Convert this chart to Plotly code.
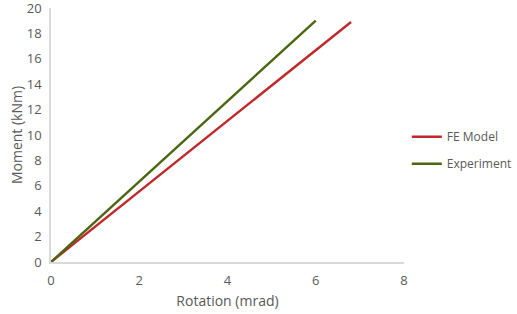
import plotly.graph_objects as go

fe_rotation = [0, 6.8]
fe_moment = [0, 18.9]
exp_rotation = [0, 6.0]
exp_moment = [0, 19.0]

x_ticks = [0, 2, 4, 6, 8]
y_ticks = [0, 2, 4, 6, 8, 10, 12, 14, 16, 18, 20]

fig = go.Figure()
fig.add_trace(go.Scatter(x=fe_rotation, y=fe_moment, mode="lines", name="FE Model",
                         legendgroup="fe",
                         line=dict(color="#C0282C", width=2.4)))
fig.add_trace(go.Scatter(x=exp_rotation, y=exp_moment, mode="lines", name="Experiment",
                         legendgroup="exp",
                         line=dict(color="#4A6612", width=2.4)))

font_color = "#595959"
fig.update_layout(
    width=517, height=314,
    margin=dict(l=51, r=113, t=8, b=52, autoexpand=False),
    paper_bgcolor="white", plot_bgcolor="white",
    font=dict(family="Open Sans", size=13, color=font_color),
    legend=dict(x=1.008, y=0.44, xanchor="left", yanchor="middle",
                font=dict(size=12, color=font_color), tracegroupgap=8,
                itemwidth=30),
    xaxis=dict(range=[0, 8], tickvals=x_ticks, showgrid=False, zeroline=False,
               showline=True, linecolor="#D9D9D9", linewidth=1.5,
               ticks="outside", ticklen=6, tickcolor="rgba(0,0,0,0)",
               automargin=False, ticklabeloverflow="allow",
               title=dict(text="Rotation (mrad)", font=dict(size=14, color=font_color), standoff=8),
               tickfont=dict(size=13, color=font_color)),
    yaxis=dict(range=[0, 20], tickvals=y_ticks, showgrid=False, zeroline=False,
               showline=True, linecolor="#D9D9D9", linewidth=1.5,
               ticks="outside", ticklen=5, tickcolor="rgba(0,0,0,0)",
               automargin=False, ticklabeloverflow="allow",
               title=dict(text="Moment (kNm)", font=dict(size=14, color=font_color), standoff=1),
               tickfont=dict(size=13, color=font_color)),
)
fig.write_html("out.html", config={"displayModeBar": False},
               post_script="document.body.style.margin='0';")
